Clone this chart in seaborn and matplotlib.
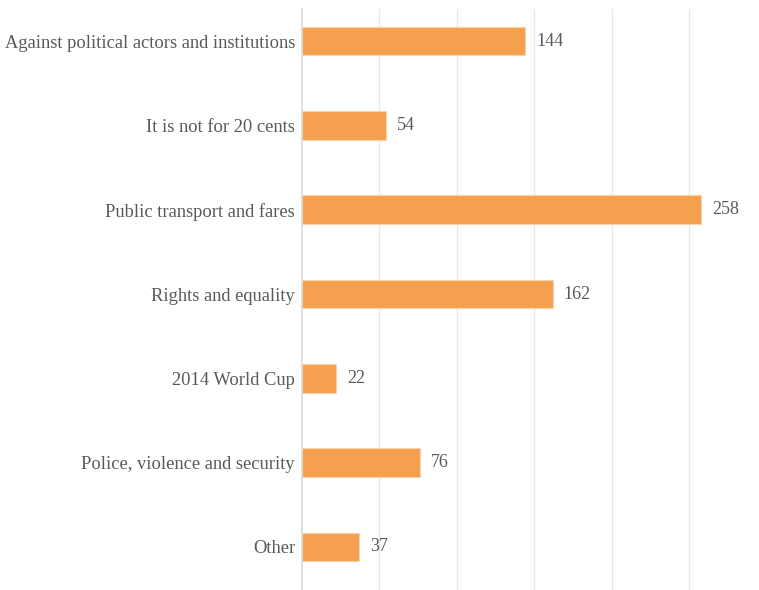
import matplotlib
matplotlib.use("Agg")
import matplotlib.pyplot as plt
import seaborn as sns
import pandas as pd

categories = [
    "Against political actors and institutions",
    "It is not for 20 cents",
    "Public transport and fares",
    "Rights and equality",
    "2014 World Cup",
    "Police, violence and security",
    "Other",
]
counts = [144, 54, 258, 162, 22, 76, 37]

df = pd.DataFrame({"topic": categories, "count": counts})

sns.set_theme(style="white")
plt.rcParams["font.family"] = ["Liberation Serif", "DejaVu Serif"]

fig = plt.figure(figsize=(7.59, 5.90), dpi=100)
ax = fig.add_axes([302 / 759, 0.0, 1 - 302 / 759, 1 - 9 / 590])

sns.barplot(data=df, x="count", y="topic", orient="h", color="#F5A04E",
            width=0.34, saturation=1, edgecolor="#FAD3AE", linewidth=0.8, ax=ax)

ax.set_xlim(0, (759 - 302) / 1.548)
ax.set_ylim(6.51, -0.38)
ax.set_xticks([50, 100, 150, 200, 250])
ax.xaxis.grid(True, color="#E8E8E8", linewidth=1)
ax.set_axisbelow(True)
ax.tick_params(axis="x", length=0, labelbottom=False)
ax.tick_params(axis="y", length=0, pad=5, labelsize=13.3, labelcolor="#595959")
ax.set_xlabel("")
ax.set_ylabel("")
for side in ["top", "right", "bottom"]:
    ax.spines[side].set_visible(False)
ax.spines["left"].set_color("#D9D9D9")
ax.spines["left"].set_linewidth(1.2)

for container in ax.containers:
    ax.bar_label(container, labels=[str(v) for v in counts], padding=8,
                 fontsize=13, color="#595959")

fig.savefig("out.png", dpi=100)
